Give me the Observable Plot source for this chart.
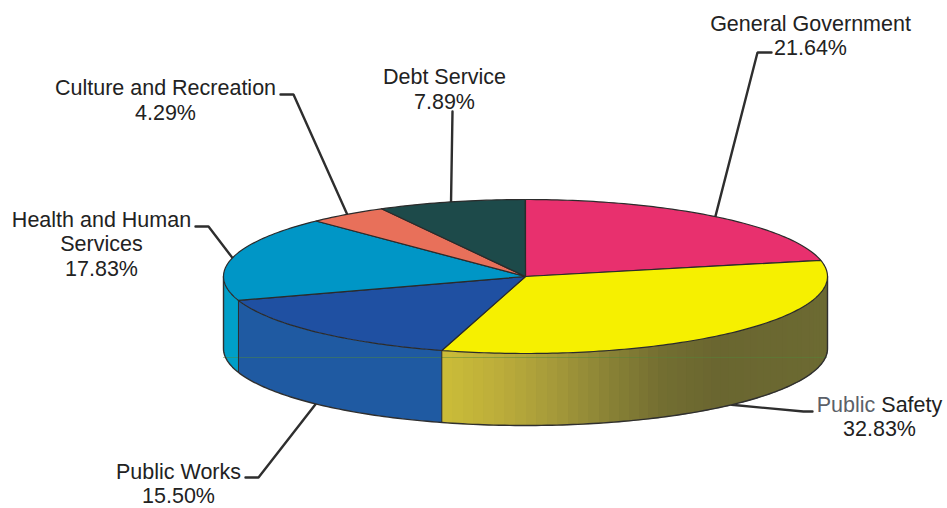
<!DOCTYPE html>
<html>
<head>
<meta charset="utf-8">
<script src="https://cdn.jsdelivr.net/npm/d3@7"></script>
<script src="https://cdn.jsdelivr.net/npm/@observablehq/plot@0.6"></script>
<style>
  html, body { margin: 0; padding: 0; background: #fff; }
  svg { display: block; }
</style>
</head>
<body>
<div id="chart"></div>
<script>
// Expenditure shares, clockwise from twelve o'clock.
const departments = ["General Government", "Public Safety", "Public Works", "Health and Human Services", "Culture and Recreation", "Debt Service"];
const shares = [21.64, 32.83, 15.50, 17.83, 4.29, 7.89];
const labelLines = [
  "General Government\n21.64%",
  "Public Safety\n32.83%",
  "Public Works\n15.50%",
  "Health and Human\nServices\n17.83%",
  "Culture and Recreation\n4.29%",
  "Debt Service\n7.89%"
];
const topColors = ["#e8306e", "#f6f000", "#1f50a2", "#0096c6", "#e8705a", "#1d4a4a"];
const wallColors = ["#b5344f", "#c9bc38", "#1f5aa2", "#009fc8", "#b0503e", "#143636"];

// Shading along the front wall of the Public Safety slice, left to right.
const safetyShade = ["#cbbd38", "#bdae3a", "#a69a3a", "#8a8336", "#736e31", "#6a6630", "#6b6831", "#6c6a32"];

// Pie placement in the plot's coordinate system.
const cx = 525, cy = 276, rx = 302, ry = 77, depth = 72;

// Label anchors and leader elbows.
const labelX = [810, 879, 178, 101, 165, 444];
const labelY = [34.5, 415.5, 482.5, 243, 99, 88];
const leaderTail = [[771, 52], [812, 411], [245, 477], [195, 226], [280, 94], [452, 111]];
const leaderElbow = [[757, 52], [803, 411], [258, 477], [208, 226], [293, 94], [452, 111]];
const leaderOnWall = [false, true, true, false, false, false];

// The faint horizontal seam that runs across the wall.
const seamY = 357;

const rim = (deg, drop = 0) => {
  const t = deg * Math.PI / 180;
  return {x: cx + rx * Math.sin(t), y: cy - ry * Math.cos(t) + drop};
};
const arc = (a, b, drop = 0, step = 1) => {
  const out = [];
  for (let d = a; d < b; d += step) out.push(rim(d, drop));
  out.push(rim(b, drop));
  return out;
};

// Angular extent of every slice.
let running = 0;
const slices = departments.map((name, i) => {
  const start = running * 3.6;
  running += shares[i];
  const end = running * 3.6;
  return {name, i, start, end, mid: (start + end) / 2};
});

const wedges = slices.flatMap(s =>
  [{x: cx, y: cy}, ...arc(s.start, s.end), {x: cx, y: cy}].map(p => ({...p, id: s.i, color: topColors[s.i]}))
);

// Front wall: flat panels, except Public Safety, which is split into
// narrow strips so the shading can vary across it.
const shade = d3.piecewise(d3.interpolateRgb, safetyShade);
const panels = [];
const strips = [];
const wallEdges = [];
slices.forEach(s => {
  const a = Math.max(s.start, 90), b = Math.min(s.end, 270);
  if (a >= b) return;
  if (s.i === 1) {
    const left = rim(s.end).x, right = cx + rx;
    for (let d = a; d < b; d += 2) {
      const e = Math.min(d + 2, b);
      const color = shade((rim((d + e) / 2).x - left) / (right - left));
      const id = `${s.i}-${d}`;
      [rim(d), rim(e), rim(e, depth), rim(d, depth)].forEach(p => strips.push({...p, id, color}));
    }
  } else {
    [...arc(a, b), ...arc(a, b, depth).reverse()].forEach(p => panels.push({...p, id: s.i, color: wallColors[s.i]}));
  }
  if (s.end < 270) {
    [rim(s.end), rim(s.end, depth)].forEach(p => wallEdges.push({...p, id: s.i}));
  }
});
const silhouette = [rim(90), ...arc(90, 270, depth), rim(270)];

// Leader lines run from the label to the rim at each slice's middle angle.
const leaders = slices.flatMap(s => [
  {x: leaderTail[s.i][0], y: leaderTail[s.i][1], id: s.i},
  {x: leaderElbow[s.i][0], y: leaderElbow[s.i][1], id: s.i},
  {...rim(s.mid, leaderOnWall[s.i] ? depth : 0), id: s.i}
]);

const labels = slices.map(s => ({text: labelLines[s.i], x: labelX[s.i], y: labelY[s.i]}));

const chart = Plot.plot({
  width: 947,
  height: 508,
  margin: 0,
  x: {domain: [0, 947], axis: null},
  y: {domain: [508, 0], axis: null},
  color: {type: "identity"},
  style: {background: "#fff"},
  marks: [
    Plot.line(leaders, {x: "x", y: "y", z: "id", stroke: "#2e2e2e", strokeWidth: 2.4, curve: "linear", strokeLinejoin: "miter"}),
    Plot.line(strips, {x: "x", y: "y", z: "id", fill: "color", stroke: "color", strokeWidth: 0.7, curve: "linear", shapeRendering: "crispEdges"}),
    Plot.line(panels, {x: "x", y: "y", z: "id", fill: "color", stroke: "none", curve: "linear"}),
    Plot.ruleY([seamY], {x1: rim(270).x, x2: rim(90).x, stroke: "#4f8a3a", strokeOpacity: 0.45, strokeWidth: 1}),
    Plot.line(wallEdges, {x: "x", y: "y", z: "id", stroke: "#2a2a2a", strokeWidth: 1}),
    Plot.line(silhouette, {x: "x", y: "y", stroke: "#2f2f2f", strokeWidth: 1.4, curve: "linear"}),
    Plot.line(wedges, {x: "x", y: "y", z: "id", fill: "color", stroke: "#2b2b2b", strokeWidth: 1.2, curve: "linear", strokeLinejoin: "round"}),
    Plot.text(labels, {
      x: "x", y: "y", text: "text",
      fontFamily: "Liberation Sans, Arial, sans-serif",
      fontSize: 21.5,
      lineHeight: 1.15,
      fill: "#222",
      textAnchor: "middle",
      lineAnchor: "middle"
    })
  ]
});
document.getElementById("chart").append(chart);

// The first word of the Public Safety label is set in a lighter grey.
d3.select(chart).selectAll("tspan").filter(function () {
  return this.textContent === "Public Safety";
}).each(function () {
  const t = d3.select(this).text("");
  t.append("tspan").attr("fill", "#5b6068").text("Public");
  t.append("tspan").text(" Safety");
});
</script>
</body>
</html>
